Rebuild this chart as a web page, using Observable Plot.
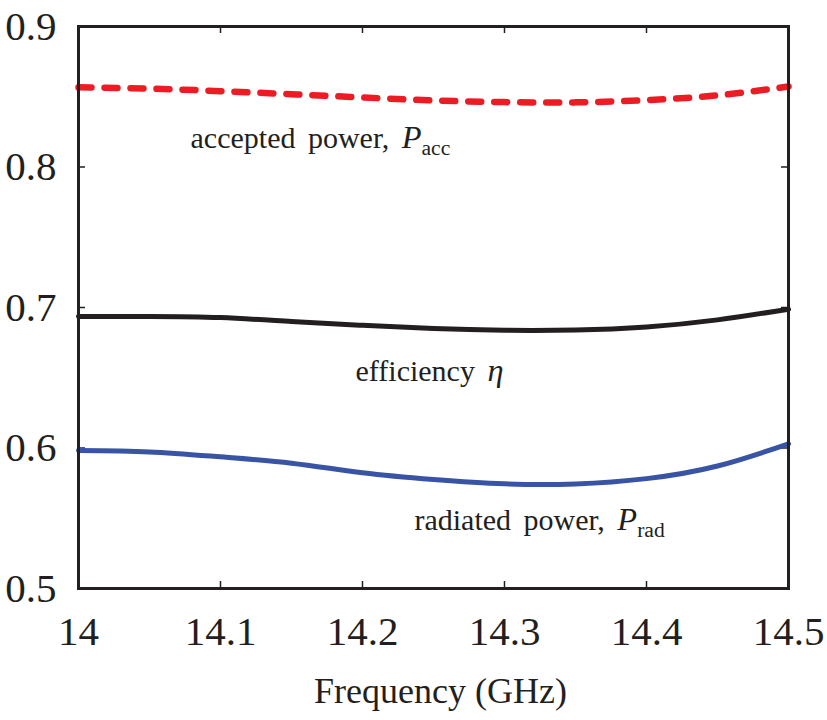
<!DOCTYPE html>
<html>
<head>
<meta charset="utf-8">
<script src="https://cdn.jsdelivr.net/npm/d3@7"></script>
<script src="https://cdn.jsdelivr.net/npm/@observablehq/plot@0.6"></script>
<style>
  html, body { margin: 0; padding: 0; background: #fff; }
  #chart svg, #chart svg text { font-family: "Liberation Serif", "Times New Roman", serif !important; }
</style>
</head>
<body>
<div id="chart"></div>
<script>
// Frequency samples (GHz)
const freq = [14.0, 14.05, 14.1, 14.15, 14.2, 14.25, 14.3, 14.35, 14.4, 14.45, 14.5];
// Accepted power P_acc (red dashed)
const pAcc = [0.8567, 0.8558, 0.8540, 0.8518, 0.8495, 0.8474, 0.8462, 0.8460, 0.8476, 0.8510, 0.8573];
// Efficiency eta (black)
const eff = [0.6936, 0.6936, 0.6928, 0.6900, 0.6873, 0.6850, 0.6838, 0.6840, 0.6862, 0.6912, 0.6988];
// Radiated power P_rad (blue)
const pRad = [0.5982, 0.5972, 0.5937, 0.5892, 0.5824, 0.5776, 0.5745, 0.5744, 0.5782, 0.5872, 0.6030];

const xTicks = [14, 14.1, 14.2, 14.3, 14.4, 14.5];
const yTicks = [0.5, 0.6, 0.7, 0.8, 0.9];
const xTickLabels = ["14", "14.1", "14.2", "14.3", "14.4", "14.5"];
const yTickLabels = ["0.5", "0.6", "0.7", "0.8", "0.9"];
const xLabel = "Frequency (GHz)";

// Annotations (anchored in data coordinates)
const annText = ["accepted power, |P|acc", "efficiency |η|", "radiated power, |P|rad"];
const annFreq = [14.0789, 14.1951, 14.2366];
const annVal = [0.8132, 0.6474, 0.5416];

const seriesRows = (vals) => freq.map((f, i) => ({f, v: vals[i]}));
const annRows = annText.map((t, i) => ({t, f: annFreq[i], v: annVal[i]}));

const W = 827, H = 720;
const mL = 78, mR = 39, mT = 26, mB = 132;
const plotH = H - mT - mB, plotW = W - mL - mR;
const FONT = "Liberation Serif";

const chart = Plot.plot({
  width: W,
  height: H,
  marginLeft: mL,
  marginRight: mR,
  marginTop: mT,
  marginBottom: mB,
  style: {fontFamily: "'Liberation Serif', serif", background: "#fff", color: "#231f20"},
  x: {domain: [14, 14.5]},
  y: {domain: [0.5, 0.9]},
  marks: [
    // inward ticks
    Plot.tickX(xTicks, {x: d => d, insetTop: plotH - 7, stroke: "#231f20", strokeWidth: 1.5}),
    Plot.tickX(xTicks, {x: d => d, insetBottom: plotH - 7, stroke: "#231f20", strokeWidth: 1.5}),
    Plot.tickY(yTicks, {y: d => d, insetRight: plotW - 7, stroke: "#231f20", strokeWidth: 1.5}),
    Plot.tickY(yTicks, {y: d => d, insetLeft: plotW - 7, stroke: "#231f20", strokeWidth: 1.5}),
    Plot.axisX(xTicks, {tickSize: 0, tickPadding: 27, fontSize: 41, fontFamily: FONT, label: null,
      tickFormat: (d) => xTickLabels[xTicks.indexOf(d)]}),
    Plot.axisY(yTicks, {tickSize: 0, tickPadding: 22, fontSize: 41, fontFamily: FONT, label: null,
      tickFormat: (d) => yTickLabels[yTicks.indexOf(d)]}),
    Plot.line(seriesRows(eff), {x: "f", y: "v", stroke: "#231f20", strokeWidth: 5, curve: "natural"}),
    Plot.line(seriesRows(pRad), {x: "f", y: "v", stroke: "#3a54a5", strokeWidth: 5, curve: "natural"}),
    Plot.line(seriesRows(pAcc), {x: "f", y: "v", stroke: "#ed1c24", strokeWidth: 6.5, strokeDasharray: "13,13", curve: "natural"}),
    Plot.frame({stroke: "#231f20", strokeWidth: 3}),
    Plot.text(annRows, {x: "f", y: "v", text: "t", textAnchor: "start", lineAnchor: "bottom", fontSize: 30, fontFamily: FONT, fill: "#231f20", className: "ann"}),
    Plot.text([xLabel], {frameAnchor: "bottom", text: d => d, dy: 114, dx: 7, fontSize: 36, fontFamily: FONT, lineAnchor: "bottom", fill: "#231f20"})
  ]
});

// Convert "|X|sub" markup into italic symbol + subscript tspans
d3.select(chart).selectAll("g.ann text").each(function() {
  const full = this.textContent;
  const parts = full.split("|");
  const sel = d3.select(this);
  sel.text(null).attr("word-spacing", "5px");
  sel.append("tspan").text(parts[0]);
  if (parts.length > 1) {
    sel.append("tspan").attr("font-style", "italic").attr("font-size", "1.08em").text(parts[1]);
    if (parts[2]) {
      sel.append("tspan").attr("font-size", "0.72em").attr("dy", "0.3em").text(parts[2]);
    }
  }
});

document.getElementById("chart").appendChild(chart);
</script>
</body>
</html>
